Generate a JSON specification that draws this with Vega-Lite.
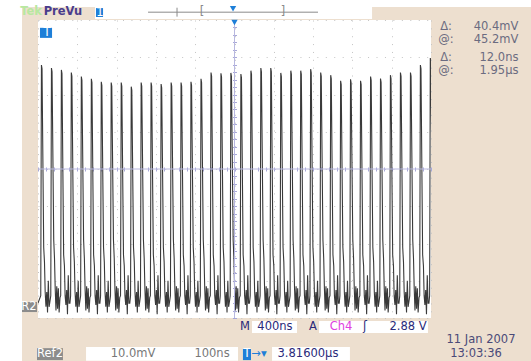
{
"$schema": "https://vega.github.io/schema/vega-lite/v6.json",
"width": 393, "height": 298,
"autosize": {"type": "none"},
"padding": {"left": 38, "top": 20, "right": 100, "bottom": 43},
"background": "#eddfcf",
"config": {"view": {"fill": "#ffffff", "stroke": null}},
"datasets": {
"wave": [{"t":0,"v":-36},
{"t":28,"v":-34},{"t":35,"v":27.9},{"t":41,"v":26.9},{"t":58,"v":-21},{"t":66,"v":-25},{"t":73,"v":-33},{"t":81,"v":-37},{"t":89,"v":-33},{"t":97,"v":-38.5},{"t":105,"v":-30},{"t":113,"v":-37},{"t":122,"v":-35.5},
{"t":130,"v":-34},{"t":137,"v":27.1},{"t":143,"v":26.1},{"t":160,"v":-19},{"t":168,"v":-24},{"t":175,"v":-32},{"t":183,"v":-38},{"t":191,"v":-31.5},{"t":199,"v":-37.5},{"t":207,"v":-32},{"t":215,"v":-38.5},{"t":224,"v":-34.5},
{"t":231,"v":-34},{"t":238,"v":26.6},{"t":244,"v":25.6},{"t":261,"v":-23},{"t":269,"v":-26},{"t":276,"v":-34},{"t":284,"v":-36.5},{"t":292,"v":-32.5},{"t":300,"v":-39},{"t":308,"v":-28.5},{"t":316,"v":-36},{"t":325,"v":-36},
{"t":332,"v":-34},{"t":339,"v":25.9},{"t":345,"v":24.9},{"t":362,"v":-21},{"t":370,"v":-25},{"t":377,"v":-33},{"t":385,"v":-37},{"t":393,"v":-33},{"t":401,"v":-38.5},{"t":409,"v":-30},{"t":417,"v":-37},{"t":426,"v":-35.5},
{"t":434,"v":-34},{"t":441,"v":24.8},{"t":447,"v":23.8},{"t":464,"v":-19},{"t":472,"v":-24},{"t":479,"v":-32},{"t":487,"v":-38},{"t":495,"v":-31.5},{"t":503,"v":-37.5},{"t":511,"v":-32},{"t":519,"v":-38.5},{"t":528,"v":-34.5},
{"t":536,"v":-34},{"t":543,"v":24.2},{"t":549,"v":23.2},{"t":566,"v":-23},{"t":574,"v":-26},{"t":581,"v":-34},{"t":589,"v":-36.5},{"t":597,"v":-32.5},{"t":605,"v":-39},{"t":613,"v":-28.5},{"t":621,"v":-36},{"t":630,"v":-36},
{"t":637,"v":-34},{"t":644,"v":23.4},{"t":650,"v":22.4},{"t":667,"v":-21},{"t":675,"v":-25},{"t":682,"v":-33},{"t":690,"v":-37},{"t":698,"v":-33},{"t":706,"v":-38.5},{"t":714,"v":-30},{"t":722,"v":-37},{"t":731,"v":-35.5},
{"t":738,"v":-34},{"t":745,"v":23.2},{"t":751,"v":22.2},{"t":768,"v":-19},{"t":776,"v":-24},{"t":783,"v":-32},{"t":791,"v":-38},{"t":799,"v":-31.5},{"t":807,"v":-37.5},{"t":815,"v":-32},{"t":823,"v":-38.5},{"t":832,"v":-34.5},
{"t":840,"v":-34},{"t":847,"v":23.2},{"t":853,"v":22.2},{"t":870,"v":-23},{"t":878,"v":-26},{"t":885,"v":-34},{"t":893,"v":-36.5},{"t":901,"v":-32.5},{"t":909,"v":-39},{"t":917,"v":-28.5},{"t":925,"v":-36},{"t":934,"v":-36},
{"t":942,"v":-34},{"t":949,"v":22.1},{"t":955,"v":21.1},{"t":972,"v":-21},{"t":980,"v":-25},{"t":987,"v":-33},{"t":995,"v":-37},{"t":1003,"v":-33},{"t":1011,"v":-38.5},{"t":1019,"v":-30},{"t":1027,"v":-37},{"t":1036,"v":-35.5},
{"t":1043,"v":-34},{"t":1050,"v":23.2},{"t":1056,"v":22.2},{"t":1073,"v":-19},{"t":1081,"v":-24},{"t":1088,"v":-32},{"t":1096,"v":-38},{"t":1104,"v":-31.5},{"t":1112,"v":-37.5},{"t":1120,"v":-32},{"t":1128,"v":-38.5},{"t":1137,"v":-34.5},
{"t":1144,"v":-34},{"t":1151,"v":23.2},{"t":1157,"v":22.2},{"t":1174,"v":-23},{"t":1182,"v":-26},{"t":1189,"v":-34},{"t":1197,"v":-36.5},{"t":1205,"v":-32.5},{"t":1213,"v":-39},{"t":1221,"v":-28.5},{"t":1229,"v":-36},{"t":1238,"v":-36},
{"t":1246,"v":-34},{"t":1253,"v":22.8},{"t":1259,"v":21.8},{"t":1276,"v":-21},{"t":1284,"v":-25},{"t":1291,"v":-33},{"t":1299,"v":-37},{"t":1307,"v":-33},{"t":1315,"v":-38.5},{"t":1323,"v":-30},{"t":1331,"v":-37},{"t":1340,"v":-35.5},
{"t":1348,"v":-34},{"t":1355,"v":23.2},{"t":1361,"v":22.2},{"t":1378,"v":-19},{"t":1386,"v":-24},{"t":1393,"v":-32},{"t":1401,"v":-38},{"t":1409,"v":-31.5},{"t":1417,"v":-37.5},{"t":1425,"v":-32},{"t":1433,"v":-38.5},{"t":1442,"v":-34.5},
{"t":1449,"v":-34},{"t":1456,"v":23.2},{"t":1462,"v":22.2},{"t":1479,"v":-23},{"t":1487,"v":-26},{"t":1494,"v":-34},{"t":1502,"v":-36.5},{"t":1510,"v":-32.5},{"t":1518,"v":-39},{"t":1526,"v":-28.5},{"t":1534,"v":-36},{"t":1543,"v":-36},
{"t":1550,"v":-34},{"t":1557,"v":23.4},{"t":1563,"v":22.4},{"t":1580,"v":-21},{"t":1588,"v":-25},{"t":1595,"v":-33},{"t":1603,"v":-37},{"t":1611,"v":-33},{"t":1619,"v":-38.5},{"t":1627,"v":-30},{"t":1635,"v":-37},{"t":1644,"v":-35.5},
{"t":1652,"v":-34},{"t":1659,"v":24.2},{"t":1665,"v":23.2},{"t":1682,"v":-19},{"t":1690,"v":-24},{"t":1697,"v":-32},{"t":1705,"v":-38},{"t":1713,"v":-31.5},{"t":1721,"v":-37.5},{"t":1729,"v":-32},{"t":1737,"v":-38.5},{"t":1746,"v":-34.5},
{"t":1754,"v":-34},{"t":1761,"v":25.9},{"t":1767,"v":24.9},{"t":1784,"v":-23},{"t":1792,"v":-26},{"t":1799,"v":-34},{"t":1807,"v":-36.5},{"t":1815,"v":-32.5},{"t":1823,"v":-39},{"t":1831,"v":-28.5},{"t":1839,"v":-36},{"t":1848,"v":-36},
{"t":1855,"v":-34},{"t":1862,"v":25.7},{"t":1868,"v":24.7},{"t":1885,"v":-21},{"t":1893,"v":-25},{"t":1900,"v":-33},{"t":1908,"v":-37},{"t":1916,"v":-33},{"t":1924,"v":-38.5},{"t":1932,"v":-30},{"t":1940,"v":-37},{"t":1949,"v":-35.5},
{"t":1956,"v":-34},{"t":1963,"v":25.8},{"t":1969,"v":24.8},{"t":1986,"v":-19},{"t":1994,"v":-24},{"t":2001,"v":-32},{"t":2009,"v":-38},{"t":2017,"v":-31.5},{"t":2025,"v":-37.5},{"t":2033,"v":-32},{"t":2041,"v":-38.5},{"t":2050,"v":-34.5},
{"t":2058,"v":-34},{"t":2065,"v":25.5},{"t":2071,"v":24.5},{"t":2088,"v":-23},{"t":2096,"v":-26},{"t":2103,"v":-34},{"t":2111,"v":-36.5},{"t":2119,"v":-32.5},{"t":2127,"v":-39},{"t":2135,"v":-28.5},{"t":2143,"v":-36},{"t":2152,"v":-36},
{"t":2160,"v":-34},{"t":2167,"v":26.4},{"t":2173,"v":25.4},{"t":2190,"v":-21},{"t":2198,"v":-25},{"t":2205,"v":-33},{"t":2213,"v":-37},{"t":2221,"v":-33},{"t":2229,"v":-38.5},{"t":2237,"v":-30},{"t":2245,"v":-37},{"t":2254,"v":-35.5},
{"t":2261,"v":-34},{"t":2268,"v":27.1},{"t":2274,"v":26.1},{"t":2291,"v":-19},{"t":2299,"v":-24},{"t":2306,"v":-32},{"t":2314,"v":-38},{"t":2322,"v":-31.5},{"t":2330,"v":-37.5},{"t":2338,"v":-32},{"t":2346,"v":-38.5},{"t":2355,"v":-34.5},
{"t":2362,"v":-34},{"t":2369,"v":27.1},{"t":2375,"v":26.1},{"t":2392,"v":-23},{"t":2400,"v":-26},{"t":2407,"v":-34},{"t":2415,"v":-36.5},{"t":2423,"v":-32.5},{"t":2431,"v":-39},{"t":2439,"v":-28.5},{"t":2447,"v":-36},{"t":2456,"v":-36},
{"t":2464,"v":-34},{"t":2471,"v":25.8},{"t":2477,"v":24.8},{"t":2494,"v":-21},{"t":2502,"v":-25},{"t":2509,"v":-33},{"t":2517,"v":-37},{"t":2525,"v":-33},{"t":2533,"v":-38.5},{"t":2541,"v":-30},{"t":2549,"v":-37},{"t":2558,"v":-35.5},
{"t":2566,"v":-34},{"t":2573,"v":26.4},{"t":2579,"v":25.4},{"t":2596,"v":-19},{"t":2604,"v":-24},{"t":2611,"v":-32},{"t":2619,"v":-38},{"t":2627,"v":-31.5},{"t":2635,"v":-37.5},{"t":2643,"v":-32},{"t":2651,"v":-38.5},{"t":2660,"v":-34.5},
{"t":2667,"v":-34},{"t":2674,"v":26.4},{"t":2680,"v":25.4},{"t":2697,"v":-23},{"t":2705,"v":-26},{"t":2712,"v":-34},{"t":2720,"v":-36.5},{"t":2728,"v":-32.5},{"t":2736,"v":-39},{"t":2744,"v":-28.5},{"t":2752,"v":-36},{"t":2761,"v":-36},
{"t":2768,"v":-34},{"t":2775,"v":26.8},{"t":2781,"v":25.8},{"t":2798,"v":-21},{"t":2806,"v":-25},{"t":2813,"v":-33},{"t":2821,"v":-37},{"t":2829,"v":-33},{"t":2837,"v":-38.5},{"t":2845,"v":-30},{"t":2853,"v":-37},{"t":2862,"v":-35.5},
{"t":2870,"v":-34},{"t":2877,"v":25.9},{"t":2883,"v":24.9},{"t":2900,"v":-19},{"t":2908,"v":-24},{"t":2915,"v":-32},{"t":2923,"v":-38},{"t":2931,"v":-31.5},{"t":2939,"v":-37.5},{"t":2947,"v":-32},{"t":2955,"v":-38.5},{"t":2964,"v":-34.5},
{"t":2972,"v":-34},{"t":2979,"v":25.2},{"t":2985,"v":24.2},{"t":3002,"v":-23},{"t":3010,"v":-26},{"t":3017,"v":-34},{"t":3025,"v":-36.5},{"t":3033,"v":-32.5},{"t":3041,"v":-39},{"t":3049,"v":-28.5},{"t":3057,"v":-36},{"t":3066,"v":-36},
{"t":3073,"v":-34},{"t":3080,"v":23.7},{"t":3086,"v":22.7},{"t":3103,"v":-21},{"t":3111,"v":-25},{"t":3118,"v":-33},{"t":3126,"v":-37},{"t":3134,"v":-33},{"t":3142,"v":-38.5},{"t":3150,"v":-30},{"t":3158,"v":-37},{"t":3167,"v":-35.5},
{"t":3174,"v":-34},{"t":3181,"v":24.1},{"t":3187,"v":23.1},{"t":3204,"v":-19},{"t":3212,"v":-24},{"t":3219,"v":-32},{"t":3227,"v":-38},{"t":3235,"v":-31.5},{"t":3243,"v":-37.5},{"t":3251,"v":-32},{"t":3259,"v":-38.5},{"t":3268,"v":-34.5},
{"t":3276,"v":-34},{"t":3283,"v":23.7},{"t":3289,"v":22.7},{"t":3306,"v":-23},{"t":3314,"v":-26},{"t":3321,"v":-34},{"t":3329,"v":-36.5},{"t":3337,"v":-32.5},{"t":3345,"v":-39},{"t":3353,"v":-28.5},{"t":3361,"v":-36},{"t":3370,"v":-36},
{"t":3378,"v":-34},{"t":3385,"v":24.8},{"t":3391,"v":23.8},{"t":3408,"v":-21},{"t":3416,"v":-25},{"t":3423,"v":-33},{"t":3431,"v":-37},{"t":3439,"v":-33},{"t":3447,"v":-38.5},{"t":3455,"v":-30},{"t":3463,"v":-37},{"t":3472,"v":-35.5},
{"t":3479,"v":-34},{"t":3486,"v":24.3},{"t":3492,"v":23.3},{"t":3509,"v":-19},{"t":3517,"v":-24},{"t":3524,"v":-32},{"t":3532,"v":-38},{"t":3540,"v":-31.5},{"t":3548,"v":-37.5},{"t":3556,"v":-32},{"t":3564,"v":-38.5},{"t":3573,"v":-34.5},
{"t":3580,"v":-34},{"t":3587,"v":25.2},{"t":3593,"v":24.2},{"t":3610,"v":-23},{"t":3618,"v":-26},{"t":3625,"v":-34},{"t":3633,"v":-36.5},{"t":3641,"v":-32.5},{"t":3649,"v":-39},{"t":3657,"v":-28.5},{"t":3665,"v":-36},{"t":3674,"v":-36},
{"t":3682,"v":-34},{"t":3689,"v":25.9},{"t":3695,"v":24.9},{"t":3712,"v":-21},{"t":3720,"v":-25},{"t":3727,"v":-33},{"t":3735,"v":-37},{"t":3743,"v":-33},{"t":3751,"v":-38.5},{"t":3759,"v":-30},{"t":3767,"v":-37},{"t":3776,"v":-35.5},
{"t":3784,"v":-34},{"t":3791,"v":25.9},{"t":3797,"v":24.9},{"t":3814,"v":-19},{"t":3822,"v":-24},{"t":3829,"v":-32},{"t":3837,"v":-38},{"t":3845,"v":-31.5},{"t":3853,"v":-37.5},{"t":3861,"v":-32},{"t":3869,"v":-38.5},{"t":3878,"v":-34.5},
{"t":3885,"v":-34},{"t":3892,"v":27.9},{"t":3898,"v":26.9},{"t":3915,"v":-23},{"t":3923,"v":-26},{"t":3930,"v":-34},{"t":3938,"v":-36.5},{"t":3946,"v":-32.5},{"t":3954,"v":-39},{"t":3962,"v":-28.5},{"t":3970,"v":-36},{"t":3979,"v":-36},
{"t":3986,"v":-34},{"t":3993,"v":29.8},{"t":3999,"v":28.8},{"t":4016,"v":-21}],
"boxes": [
{"t":-600,"t2":-163,"v":-60,"v2":60,"kind":"white"},
{"t":-163,"t2":5600,"v":43.5,"v2":60,"kind":"white"},
{"t":580,"t2":3400,"v":40.3,"v2":43.5,"kind":"white"},
{"t":2178,"t2":2636,"v":-40.8,"v2":-44.0,"kind":"white"},
{"t":2860,"t2":3969,"v":-40.8,"v2":-44.0,"kind":"white"},
{"t":489,"t2":2036,"v":-47.8,"v2":-51.5,"kind":"white"},
{"t":2382,"t2":3175,"v":-47.8,"v2":-51.5,"kind":"white"},
{"t":-10,"t2":254,"v":-48.1,"v2":-51.3,"kind":"gray"},
{"t":-163,"t2":-10,"v":-35.7,"v2":-38.4,"kind":"gray"},
{"t":20,"t2":143,"v":37.9,"v2":35.2,"kind":"blue"},
{"t":590,"t2":662,"v":43.2,"v2":40.8,"kind":"blue"},
{"t":2086,"t2":2168,"v":-48.3,"v2":-51.3,"kind":"blue"}],
"lines": [
{"t":1120,"t2":2850,"v":42.1,"v2":42.1},
{"t":1415,"t2":1415,"v":43.3,"v2":40.9}],
"tris": [{"t":1985,"v":43.0},{"t":2000,"v":39.3}],
"labels": [
{"t":4153,"v":38.1,"text":"Δ:","kind":"readout"},
{"t":4153,"v":34.6,"text":"@:","kind":"readout"},
{"t":4153,"v":29.8,"text":"Δ:","kind":"readout"},
{"t":4153,"v":26.3,"text":"@:","kind":"readout"},
{"t":4662,"v":38.1,"text":"40.4mV","kind":"readout"},
{"t":4662,"v":34.6,"text":"45.2mV","kind":"readout"},
{"t":4692,"v":29.8,"text":"12.0ns","kind":"readout"},
{"t":4692,"v":26.3,"text":"1.95µs","kind":"readout"},
{"t":2107,"v":-42.4,"text":"M","kind":"navy"},
{"t":2412,"v":-42.4,"text":"400ns","kind":"navy"},
{"t":2799,"v":-42.4,"text":"A","kind":"navy"},
{"t":3084,"v":-42.4,"text":"Ch4","kind":"magenta"},
{"t":3328,"v":-42.4,"text":"ʃ","kind":"navy"},
{"t":3766,"v":-42.4,"text":"2.88 V","kind":"navy"},
{"t":122,"v":-49.7,"text":"Ref2","kind":"white"},
{"t":967,"v":-49.7,"text":"10.0mV","kind":"gray"},
{"t":1771,"v":-49.7,"text":"100ns","kind":"gray"},
{"t":2127,"v":-49.7,"text":"T","kind":"white"},
{"t":2249,"v":-49.7,"text":"→▾","kind":"blue"},
{"t":2748,"v":-49.7,"text":"3.81600µs","kind":"navy"},
{"t":4509,"v":-45.9,"text":"11 Jan  2007","kind":"date"},
{"t":4458,"v":-49.7,"text":"13:03:36","kind":"date"},
{"t":-92,"v":-37.0,"text":"R2","kind":"white"},
{"t":92,"v":36.5,"text":"T","kind":"white"},
{"t":631,"v":41.9,"text":"1","kind":"white"},
{"t":1669,"v":42.1,"text":"[","kind":"line"},
{"t":2494,"v":42.1,"text":"]","kind":"line"}],
"bold": [
{"t":-71,"v":42.1,"text":"Tek","kind":"green"},
{"t":254,"v":42.1,"text":"PreVu","kind":"purple"}]
},
"resolve": {"axis": {"x": "independent", "y": "independent"}, "scale": {"color": "independent"}},
"layer": [
{"data": {"name": "boxes"}, "mark": {"type": "rect"},
 "encoding": {
  "x": {"field": "t", "type": "quantitative", "scale": {"domain": [0, 4000], "nice": false, "zero": false}, "axis": null},
  "x2": {"field": "t2"},
  "y": {"field": "v", "type": "quantitative", "scale": {"domain": [-40, 40], "nice": false, "zero": false}, "axis": null},
  "y2": {"field": "v2"},
  "color": {"field": "kind", "type": "nominal", "scale": {"domain": ["white", "gray", "blue"], "range": ["#ffffff", "#8c8c8c", "#1e7fd8"]}, "legend": null}}},
{"data": {"name": "wave"}, "mark": {"type": "line", "color": "#3a3a3a", "strokeWidth": 1.1, "clip": true},
 "encoding": {
  "x": {"field": "t", "type": "quantitative", "axis": {"orient": "bottom", "values": [0,400,800,1200,1600,2000,2400,2800,3200,3600,4000], "grid": true, "gridColor": "#c4c4c4", "gridDash": [1, 6.86], "ticks": false, "labels": false, "domain": false, "title": null}},
  "y": {"field": "v", "type": "quantitative", "axis": {"orient": "left", "values": [-40,-30,-20,-10,0,10,20,30,40], "grid": true, "gridColor": "#c4c4c4", "gridDash": [1, 7.45], "ticks": false, "labels": false, "domain": false, "title": null}}}},
{"data": {"values": [{"t": 2000}]}, "mark": {"type": "rule", "color": "#b8b8e0", "strokeWidth": 1},
 "encoding": {
  "x": {"field": "t", "type": "quantitative", "axis": {"orient": "top", "offset": -151, "values": [0,80,160,240,320,400,480,560,640,720,800,880,960,1040,1120,1200,1280,1360,1440,1520,1600,1680,1760,1840,1920,2000,2080,2160,2240,2320,2400,2480,2560,2640,2720,2800,2880,2960,3040,3120,3200,3280,3360,3440,3520,3600,3680,3760,3840,3920,4000], "ticks": true, "tickSize": 4, "tickColor": "#a8a8d8", "labels": false, "domain": false, "grid": false, "title": null}},
  "y": {"datum": -40, "axis": null},
  "y2": {"datum": 40}}},
{"data": {"values": [{"v": 0}]}, "mark": {"type": "rule", "color": "#b8b8e0", "strokeWidth": 1},
 "encoding": {
  "y": {"field": "v", "type": "quantitative", "axis": {"orient": "right", "offset": -198.5, "values": [-40,-38,-36,-34,-32,-30,-28,-26,-24,-22,-20,-18,-16,-14,-12,-10,-8,-6,-4,-2,0,2,4,6,8,10,12,14,16,18,20,22,24,26,28,30,32,34,36,38,40], "ticks": true, "tickSize": 4, "tickColor": "#a8a8d8", "labels": false, "domain": false, "grid": false, "title": null}},
  "x": {"datum": 0, "axis": null},
  "x2": {"datum": 4000}}},
{"data": {"name": "lines"}, "mark": {"type": "rule", "color": "#8a8a8a", "strokeWidth": 1},
 "encoding": {
  "x": {"field": "t", "type": "quantitative", "axis": null},
  "x2": {"field": "t2"},
  "y": {"field": "v", "type": "quantitative", "axis": null},
  "y2": {"field": "v2"}}},
{"data": {"name": "tris"}, "mark": {"type": "point", "shape": "triangle-down", "filled": true, "color": "#1e7fd8", "size": 40, "opacity": 1},
 "encoding": {
  "x": {"field": "t", "type": "quantitative", "axis": null},
  "y": {"field": "v", "type": "quantitative", "axis": null}}},
{"data": {"name": "labels"}, "mark": {"type": "text", "font": "DejaVu Sans", "fontSize": 11.5, "align": "center", "baseline": "middle"},
 "encoding": {
  "x": {"field": "t", "type": "quantitative", "axis": null},
  "y": {"field": "v", "type": "quantitative", "axis": null},
  "text": {"field": "text"},
  "color": {"field": "kind", "type": "nominal", "scale": {"domain": ["readout", "navy", "magenta", "gray", "white", "date", "blue", "line"], "range": ["#6b6b80", "#2a2a7a", "#e040e0", "#787878", "#ffffff", "#4a4a78", "#1e7fd8", "#8a8a8a"]}, "legend": null}}},
{"data": {"name": "bold"}, "mark": {"type": "text", "font": "DejaVu Sans", "fontSize": 11.5, "fontWeight": "bold", "align": "center", "baseline": "middle"},
 "encoding": {
  "x": {"field": "t", "type": "quantitative", "axis": null},
  "y": {"field": "v", "type": "quantitative", "axis": null},
  "text": {"field": "text"},
  "color": {"field": "kind", "type": "nominal", "scale": {"domain": ["green", "purple"], "range": ["#b8e8a0", "#4a3c8c"]}, "legend": null}}}
]
}
